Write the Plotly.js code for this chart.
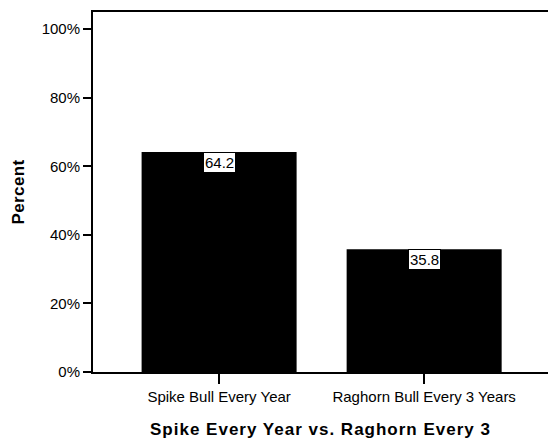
<!DOCTYPE html>
<html>
<head>
<meta charset="utf-8">
<script src="https://cdn.plot.ly/plotly-3.0.1.min.js"></script>
<style>
html,body{margin:0;padding:0;background:#fff;overflow:hidden}
.g-xtitle text{letter-spacing:1px}
.g-ytitle text{letter-spacing:0.4px}
</style>
</head>
<body>
<div id="chart" style="width:548px;height:440px"></div>
<script>
const categories = ["Spike Bull Every Year", "Raghorn Bull Every 3 Years"];
const percents = [64.2, 35.8];
const yTickValues = [0, 20, 40, 60, 80, 100];
const xTitle = "Spike Every Year vs. Raghorn Every 3";
const yTitle = "Percent";

const FONT = "Liberation Sans, Arial, sans-serif";

const trace = {
  type: "bar",
  x: categories,
  y: percents,
  width: 0.756,
  marker: {color: "#000000", line: {width: 0}},
  hoverinfo: "skip"
};

const annotations = categories.map((c, i) => ({
  x: c, y: percents[i], xref: "x", yref: "y",
  text: percents[i].toFixed(1),
  showarrow: false, yanchor: "top", xanchor: "center",
  yshift: 0,
  bgcolor: "#ffffff", bordercolor: "#000000", borderwidth: 1, borderpad: 1,
  font: {family: FONT, size: 15, color: "#000000"}
}));

const layout = {
  width: 548, height: 440,
  margin: {l: 93, r: 0, t: 12, b: 68, pad: 0},
  paper_bgcolor: "#ffffff", plot_bgcolor: "#ffffff",
  showlegend: false,
  font: {family: FONT, size: 15, color: "#000000"},
  xaxis: {
    range: [-0.615, 1.604],
    showgrid: false, zeroline: false,
    showline: true, linecolor: "#000000", linewidth: 2, mirror: true,
    ticks: "outside", ticklen: 10, tickwidth: 2, tickcolor: "#000000",
    tickfont: {family: FONT, size: 15, color: "#000000"},
    title: {text: xTitle, standoff: 19,
      font: {family: FONT, size: 17, color: "#000000", weight: "bold"}},
    fixedrange: true
  },
  yaxis: {
    range: [0, 105],
    tickvals: yTickValues,
    ticktext: yTickValues.map(v => v + "%"),
    showgrid: false, zeroline: false,
    showline: true, linecolor: "#000000", linewidth: 2,
    ticks: "outside", ticklen: 8, tickwidth: 2, tickcolor: "#000000",
    tickfont: {family: FONT, size: 15, color: "#000000"},
    title: {text: yTitle, standoff: 12.5,
      font: {family: FONT, size: 17, color: "#000000", weight: "bold"}},
    fixedrange: true
  },
  annotations: annotations,
  bargap: 0.2
};

Plotly.newPlot("chart", [trace], layout, {displayModeBar: false, staticPlot: true});
</script>
</body>
</html>
